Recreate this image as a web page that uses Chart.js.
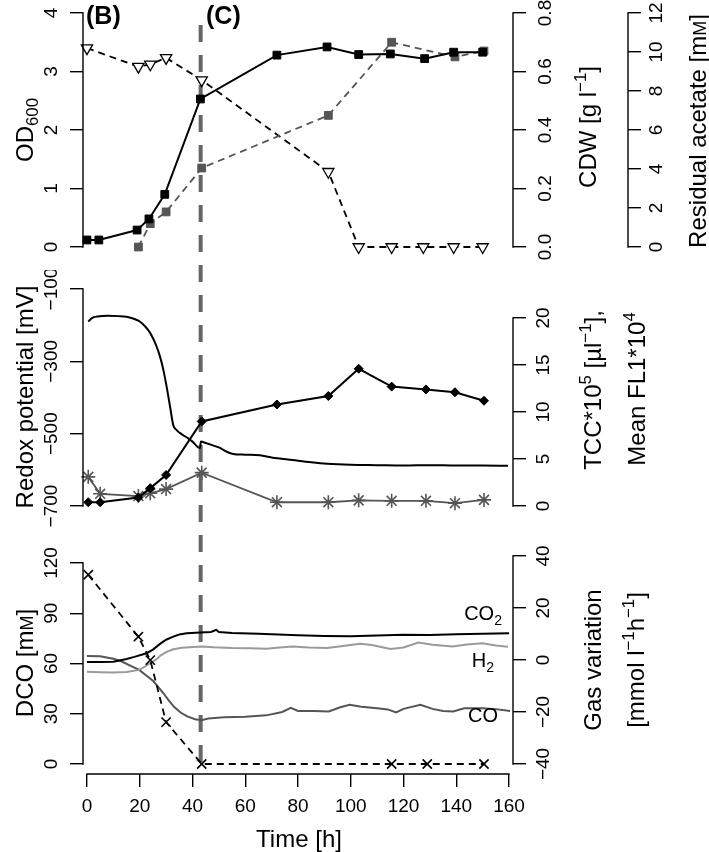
<!DOCTYPE html>
<html>
<head>
<meta charset="utf-8">
<script src="https://cdn.jsdelivr.net/npm/chart.js"></script>
<style>
body { margin: 0; background: #fff; }
canvas { position: absolute; left: 0; }
</style>
</head>
<body>
<canvas id="panelTop" width="709" height="270" style="top:0px"></canvas>
<canvas id="panelMid" width="709" height="270" style="top:270px"></canvas>
<canvas id="panelBot" width="709" height="312" style="top:540px"></canvas>
<script>
// ---- data ----
const xTicks = [0, 20, 40, 60, 80, 100, 120, 140, 160];
const phaseC = 43.1;

// panel 1: growth
const odTime = [0, 4.5, 19, 23.5, 29.5, 43, 72, 91, 103, 115, 128, 139, 150];
const od600 = [0.12, 0.12, 0.29, 0.48, 0.9, 2.53, 3.28, 3.42, 3.29, 3.3, 3.22, 3.33, 3.33];
const cdwTime = [19.5, 24, 30, 43.5, 91.5, 115.5, 139.5, 150.5];
const cdw = [0, 0.08, 0.12, 0.27, 0.45, 0.7, 0.65, 0.67];
const acetateTime = [0, 19.5, 24, 30, 43.5, 91.5, 103, 115.5, 127.5, 139, 150];
const acetate = [10.2, 9.25, 9.37, 9.7, 8.56, 3.86, 0, 0, 0, 0, 0];
const odTicks = [0, 1, 2, 3, 4];
const cdwTicks = [0, 0.2, 0.4, 0.6, 0.8];
const acetateTicks = [0, 2, 4, 6, 8, 10, 12];

// panel 2: redox + flow cytometry
const redoxTime = [0.5, 2, 4, 8, 12, 15, 18, 20, 22, 24, 26, 27.7, 29, 30.2, 31.5, 32.7, 34, 36, 38.4, 40, 42.8, 43.2, 45, 48, 50, 53, 55.4, 60, 65.6, 70, 78, 85, 91, 100, 110, 120, 130, 140, 150, 159.6];
const redox = [-190, -180, -176, -174, -175, -177, -183, -190, -203, -222, -252, -287, -325, -370, -425, -476, -490, -502, -513, -522, -540, -522, -526, -533, -538, -550, -556, -558, -560, -566, -573, -579, -583, -586, -587, -588, -587, -588, -588, -589];
const cellTime = [0.5, 5, 19.5, 24, 30, 43.5, 72, 91.5, 103, 115.5, 128.5, 139.5, 150.5];
const tcc = [0.4, 0.4, 0.9, 1.9, 3.3, 9.0, 10.8, 11.7, 14.6, 12.7, 12.4, 12.1, 11.2];
const fl1 = [3.1, 1.3, 1.06, 1.35, 1.8, 3.55, 0.4, 0.4, 0.6, 0.55, 0.55, 0.3, 0.65];
const redoxTicks = [-700, -500, -300, -100];
const tccTicks = [0, 5, 10, 15, 20];

// panel 3: dissolved CO + gas variation
const dcoTime = [0.5, 19.5, 24, 30, 43.5, 115.5, 129, 150.5];
const dco = [113, 76, 62, 25, 0, 0, 0, 0];
const co2Time = [0, 5, 10, 15, 18, 22.6, 25, 27.7, 30, 32.7, 35, 37.8, 43, 47, 49, 50, 55, 65, 80, 90, 100, 110, 120, 130, 140, 150, 160];
const co2 = [-0.8, -0.8, -0.7, 0.4, 1.2, 2.6, 4, 6.2, 7.8, 9.0, 9.8, 10.3, 10.6, 10.8, 11.6, 10.8, 10.4, 10.1, 9.5, 9.2, 9.1, 9.4, 9.7, 9.6, 9.9, 10.1, 10.3];
const h2Time = [0, 5, 10, 15, 19.8, 22, 24, 26.4, 28, 30, 32.7, 36, 43.5, 48, 55, 62, 68, 73, 78, 84, 91, 97, 103.5, 108, 115, 120, 125.6, 131, 138.6, 144, 150, 155, 159.6];
const h2 = [-4.5, -4.7, -4.8, -4.6, -3.8, -2.5, -1.2, 0.3, 1.8, 3, 4.1, 4.7, 5.2, 4.9, 4.6, 4.5, 4.3, 4.8, 5.2, 4.8, 4.6, 5.4, 6.2, 5.8, 4.2, 4.8, 6.7, 5.9, 5.2, 6.0, 6.4, 5.6, 5.1];
const coTime = [0, 5, 10, 13, 16, 19.8, 22.5, 25, 27, 29, 31, 33, 35.5, 38, 41, 43.4, 46, 52, 60, 68, 74, 77.3, 80, 86, 91.7, 96, 99.6, 104, 110, 114, 117.2, 120, 126.4, 131, 135, 138.8, 143, 150, 155, 160.4];
const co = [1.5, 1.4, 0.5, -0.5, -2, -3.8, -6, -8, -10.3, -12.8, -15.5, -18, -20.2, -21.7, -22.8, -23.2, -22.5, -22, -21.8, -21.3, -20, -18.4, -19.6, -19.6, -19.8, -18.2, -17.2, -18, -18.6, -19, -20.2, -18.8, -17.2, -18.8, -19.6, -19.8, -18.6, -18.6, -18.9, -19.6];
const dcoTicks = [0, 30, 60, 90, 120];
const gasTicks = [-40, -20, 0, 20, 40];

// ---- helpers ----
const FONT = '"Liberation Sans", Arial, sans-serif';
Chart.defaults.font.family = FONT;
Chart.defaults.color = '#000';

const pts = (xs, ys) => xs.map((x, i) => ({ x: x, y: ys[i] }));
const minus = v => String(v).replace('-', '\u2212');

function richText(ctx, parts, x, y, size, rot, align, weight) {
    ctx.save();
    ctx.translate(x, y);
    ctx.rotate(rot || 0);
    ctx.textBaseline = 'alphabetic';
    ctx.textAlign = 'left';
    ctx.fillStyle = '#000';
    const spec = parts.map(p => {
        const t = Array.isArray(p) ? p[0] : p;
        const k = Array.isArray(p) ? p[1] : '';
        const fs = (k === 'sup' || k === 'sub') ? size * 0.7 : (k === 'sc' ? size * 0.75 : size);
        const font = (weight || 'normal') + ' ' + fs + 'px ' + FONT;
        ctx.font = font;
        return { t: t, k: k, font: font, w: ctx.measureText(t).width };
    });
    const total = spec.reduce((a, s) => a + s.w, 0);
    let cx = align === 'right' ? -total : (align === 'left' ? 0 : -total / 2);
    const base = size * 0.36;
    spec.forEach(s => {
        ctx.font = s.font;
        const dy = s.k === 'sup' ? -size * 0.42 : (s.k === 'sub' ? size * 0.22 : 0);
        ctx.fillText(s.t, cx, base + dy);
        cx += s.w;
    });
    ctx.restore();
}

const rStyle = {
    id: 'rstyle',
    beforeDatasetsDraw(chart, args, o) {
        if (!o.vline) return;
        const ctx = chart.ctx;
        const x = chart.scales.x.getPixelForValue(phaseC);
        ctx.save();
        ctx.strokeStyle = '#666';
        ctx.lineWidth = 4;
        ctx.setLineDash([17, 13]);
        ctx.lineDashOffset = o.vline.from - 25;
        ctx.beginPath();
        ctx.moveTo(x, o.vline.from - o.top);
        ctx.lineTo(x, o.vline.to - o.top);
        ctx.stroke();
        ctx.restore();
    },
    afterDraw(chart, args, o) {
        const ctx = chart.ctx;
        ctx.save();
        (o.axes || []).forEach(a => {
            const s = chart.scales[a.id];
            const p0 = s.getPixelForValue(a.ticks[0]);
            const p1 = s.getPixelForValue(a.ticks[a.ticks.length - 1]);
            ctx.strokeStyle = '#000';
            ctx.lineWidth = 1.4;
            ctx.lineCap = 'square';
            ctx.setLineDash([]);
            ctx.beginPath();
            if (a.side === 'bottom') {
                ctx.moveTo(p0, s.top); ctx.lineTo(p1, s.top);
            } else {
                const x = a.side === 'left' ? s.right : s.left;
                ctx.moveTo(x, p0); ctx.lineTo(x, p1);
            }
            ctx.stroke();
            if (a.side !== 'bottom') {
                ctx.fillStyle = '#000';
                ctx.font = '19px ' + FONT;
                ctx.textAlign = 'center';
                ctx.textBaseline = 'middle';
                const x = a.side === 'left' ? s.right - a.lab : s.left + a.lab;
                a.ticks.forEach(v => {
                    ctx.save();
                    ctx.translate(x, s.getPixelForValue(v));
                    ctx.rotate(-Math.PI / 2);
                    ctx.fillText(a.fmt(v), 0, 1);
                    ctx.restore();
                });
            }
        });
        (o.titles || []).forEach(t => {
            richText(ctx, t.parts, t.x, t.y - o.top, t.size || 24, t.rot === undefined ? -Math.PI / 2 : t.rot, t.align, t.weight);
        });
        (o.labels || []).forEach(t => {
            const x = chart.scales.x.getPixelForValue(t.xv);
            const y = chart.scales[t.scale].getPixelForValue(t.yv);
            richText(ctx, t.parts, x, y, 20, 0, 'right');
        });
        ctx.restore();
    }
};

function xScale(show) {
    return {
        type: 'linear', min: -1.5, max: 161.5, display: show, position: 'bottom',
        afterBuildTicks: s => { s.ticks = xTicks.map(v => ({ value: v })); },
        afterFit: s => { s.height = show ? 78 : 0; },
        ticks: { font: { size: 19 }, color: '#000', padding: 8, minRotation: 0, maxRotation: 0, autoSkip: false },
        grid: { drawOnChartArea: false, drawTicks: true, tickLength: 13, color: '#000', lineWidth: 1.4 },
        border: { display: false }
    };
}

function yScale(pos, min, max, ticks, width, weight) {
    return {
        type: 'linear', position: pos, min: min, max: max, weight: weight,
        afterBuildTicks: s => { s.ticks = ticks.map(v => ({ value: v })); },
        afterFit: s => { s.width = width; },
        ticks: { display: false },
        grid: { drawOnChartArea: false, drawTicks: true, tickLength: 13, color: '#000', lineWidth: 1.4 },
        border: { display: false }
    };
}

function baseOptions(padding, scales, rstyle) {
    return {
        responsive: false, animation: false, events: [],
        layout: { padding: padding },
        scales: scales,
        plugins: { legend: { display: false }, tooltip: { enabled: false }, rstyle: rstyle }
    };
}

// ---- panel 1 ----
new Chart(document.getElementById('panelTop'), {
    type: 'line',
    data: {
        datasets: [
            { data: pts(odTime, od600), yAxisID: 'yOD', borderColor: '#000', backgroundColor: '#000', borderWidth: 2,
              pointStyle: 'rect', pointRadius: 5.5, pointBorderWidth: 1, clip: false },
            { data: pts(cdwTime, cdw), yAxisID: 'yCDW', borderColor: '#555', backgroundColor: '#555', borderWidth: 1.8,
              borderDash: [7, 5], pointStyle: 'rect', pointRadius: 5.5, pointBorderWidth: 1, clip: false },
            { data: pts(acetateTime, acetate), yAxisID: 'yAc', borderColor: '#000', backgroundColor: '#fff', borderWidth: 1.8,
              borderDash: [7, 5], pointStyle: 'triangle', pointRotation: 180, pointRadius: 6.5, pointBorderWidth: 1.3,
              pointBackgroundColor: '#fff', clip: false }
        ]
    },
    options: baseOptions({ top: 13, bottom: 23, left: 0, right: 0 }, {
        x: xScale(false),
        yOD: yScale('left', 0, 4, odTicks, 83, 0),
        yCDW: yScale('right', 0, 0.8, cdwTicks, 115, 0),
        yAc: yScale('right', 0, 12, acetateTicks, 81, 1)
    }, {
        top: 0,
        vline: { from: 25, to: 270 },
        axes: [
            { id: 'yOD', side: 'left', ticks: odTicks, fmt: minus, lab: 32 },
            { id: 'yCDW', side: 'right', ticks: cdwTicks, fmt: v => v.toFixed(1), lab: 32 },
            { id: 'yAc', side: 'right', ticks: acetateTicks, fmt: minus, lab: 28 }
        ],
        titles: [
            { parts: ['OD', ['600', 'sub']], x: 24, y: 130 },
            { parts: ['CDW [g l', ['\u22121', 'sup'], ']'], x: 587, y: 127 },
            { parts: ['Residual acetate [m', ['M', 'sc'], ']'], x: 697, y: 131 },
            { parts: ['(B)'], x: 86, y: 15, rot: 0, align: 'left', weight: 'bold', size: 25 },
            { parts: ['(C)'], x: 206, y: 15, rot: 0, align: 'left', weight: 'bold', size: 25 }
        ]
    }),
    plugins: [rStyle]
});

// ---- panel 2 ----
new Chart(document.getElementById('panelMid'), {
    type: 'line',
    data: {
        datasets: [
            { data: pts(cellTime, tcc), yAxisID: 'yTCC', borderColor: '#000', backgroundColor: '#000', borderWidth: 2,
              pointStyle: 'rectRot', pointRadius: 4.5, pointBorderWidth: 1, clip: false },
            { data: pts(cellTime, fl1), yAxisID: 'yTCC', borderColor: '#555', backgroundColor: '#555', borderWidth: 1.8,
              pointStyle: 'star', pointRadius: 7, pointBorderWidth: 1.6, clip: false },
            { data: pts(redoxTime, redox), yAxisID: 'yRedox', borderColor: '#000', borderWidth: 2,
              pointRadius: 0, cubicInterpolationMode: 'monotone', clip: false }
        ]
    },
    options: baseOptions({ top: 19, bottom: 34, left: 0, right: 0 }, {
        x: xScale(false),
        yRedox: yScale('left', -700, -100, redoxTicks, 83, 0),
        yTCC: yScale('right', 0, 20 * 217 / 188, tccTicks, 196, 0)
    }, {
        top: 270,
        vline: { from: 270, to: 540 },
        axes: [
            { id: 'yRedox', side: 'left', ticks: redoxTicks, fmt: minus, lab: 32 },
            { id: 'yTCC', side: 'right', ticks: tccTicks, fmt: minus, lab: 30 }
        ],
        titles: [
            { parts: ['Redox potential [mV]'], x: 24, y: 397 },
            { parts: ['TCC*10', ['5', 'sup'], ' [\u00b5l', ['\u22121', 'sup'], '],'], x: 592, y: 390 },
            { parts: ['Mean FL1*10', ['4', 'sup']], x: 636, y: 389 }
        ]
    }),
    plugins: [rStyle]
});

// ---- panel 3 ----
new Chart(document.getElementById('panelBot'), {
    type: 'line',
    data: {
        datasets: [
            { data: pts(dcoTime, dco), yAxisID: 'yDCO', borderColor: '#000', backgroundColor: '#000', borderWidth: 1.8,
              borderDash: [7, 5], pointStyle: 'crossRot', pointRadius: 6.5, pointBorderWidth: 1.6, clip: false },
            { data: pts(co2Time, co2), yAxisID: 'yGas', borderColor: '#000', borderWidth: 2, pointRadius: 0, clip: false },
            { data: pts(h2Time, h2), yAxisID: 'yGas', borderColor: '#9a9a9a', borderWidth: 2, pointRadius: 0, clip: false },
            { data: pts(coTime, co), yAxisID: 'yGas', borderColor: '#555', borderWidth: 2, pointRadius: 0, clip: false }
        ]
    },
    options: baseOptions({ top: 16, bottom: 0, left: 0, right: 0 }, {
        x: xScale(true),
        yDCO: yScale('left', -5.97, 124.18, dcoTicks, 83, 0),
        yGas: yScale('right', -43.85, 40, gasTicks, 196, 0)
    }, {
        top: 540,
        vline: { from: 540, to: 770 },
        axes: [
            { id: 'yDCO', side: 'left', ticks: dcoTicks, fmt: minus, lab: 32 },
            { id: 'yGas', side: 'right', ticks: gasTicks, fmt: minus, lab: 30 },
            { id: 'x', side: 'bottom', ticks: xTicks }
        ],
        titles: [
            { parts: ['DCO [m', ['M', 'sc'], ']'], x: 24, y: 663 },
            { parts: ['Gas variation'], x: 592, y: 660 },
            { parts: ['[mmol l', ['\u22121', 'sup'], 'h', ['\u22121', 'sup'], ']'], x: 635, y: 660 },
            { parts: ['Time [h]'], x: 299, y: 838, rot: 0 }
        ],
        labels: [
            { parts: ['CO', ['2', 'sub']], xv: 157.3, yv: 18, scale: 'yGas' },
            { parts: ['H', ['2', 'sub']], xv: 154.3, yv: 0, scale: 'yGas' },
            { parts: ['CO'], xv: 155.8, yv: -21.2, scale: 'yGas' }
        ]
    }),
    plugins: [rStyle]
});
</script>
</body>
</html>
